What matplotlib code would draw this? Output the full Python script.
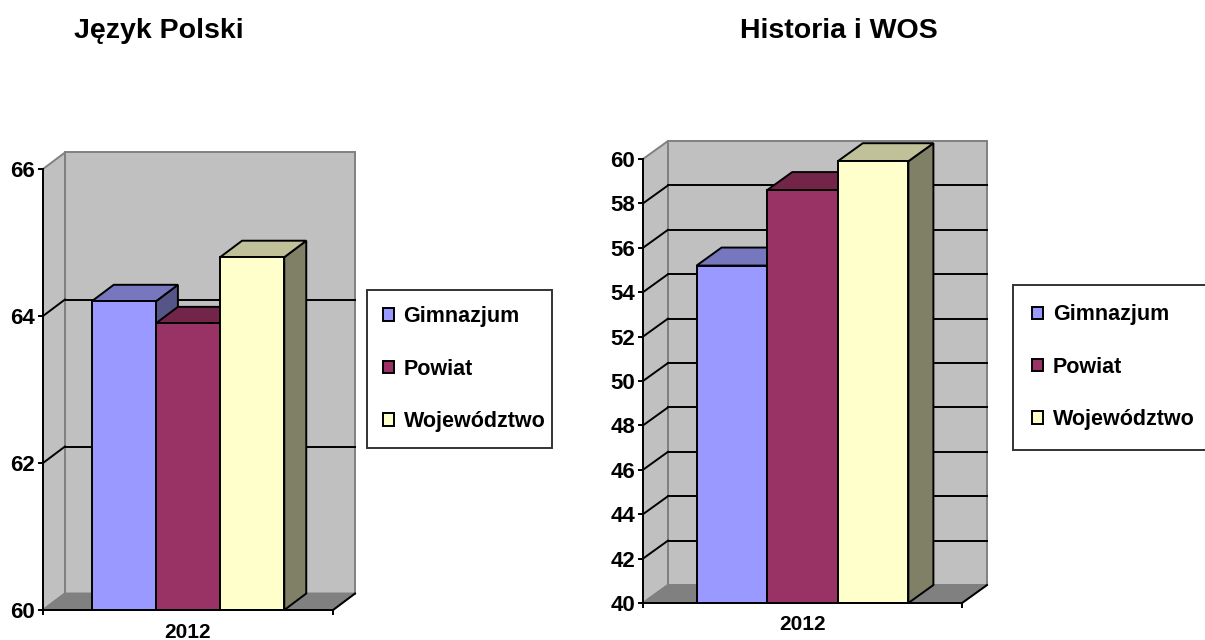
import matplotlib
matplotlib.use("Agg")
import matplotlib.pyplot as plt
from matplotlib.patches import Polygon, Rectangle

plt.rcParams['font.family'] = ['Liberation Sans', 'DejaVu Sans']
plt.rcParams['font.weight'] = 'bold'

# data
year = '2012'
series = ['Gimnazjum', 'Powiat', 'Województwo']
polski = [64.2, 63.9, 64.8]
historia = [55.2, 58.6, 59.9]
polski_ticks = [60, 62, 64, 66]
historia_ticks = list(range(40, 61, 2))

front_col = ['#9999FF', '#993366', '#FFFFCC']
top_col = ['#7777C0', '#732549', '#C0C099']
side_col = ['#555588', '#5C1F3D', '#808066']
WALL = '#C0C0C0'
FLOOR = '#808080'
EDGE = '#808080'
LW = 1.4

W, H = 1205, 640
fig = plt.figure(figsize=(W / 100, H / 100), dpi=100)


def panel(ax, values, ticks, dx_px, dy_px):
    ymin, ymax = ticks[0], ticks[-1]
    ax.set_xlim(-0.5, 0.5)
    ax.set_ylim(ymin, ymax)
    ax.patch.set_visible(False)
    bb = ax.bbox
    ddx = dx_px / bb.width
    ddy = dy_px / bb.height * (ymax - ymin)

    # back wall, side wall, floor
    ax.add_patch(Rectangle((-0.5 + ddx, ymin + ddy), 1, ymax - ymin,
                           facecolor=WALL, edgecolor=EDGE, lw=LW, clip_on=False, zorder=0.1))
    ax.add_patch(Polygon([(-0.5, ymin), (-0.5 + ddx, ymin + ddy), (-0.5 + ddx, ymax + ddy), (-0.5, ymax)],
                         facecolor=WALL, edgecolor=EDGE, lw=LW, clip_on=False, zorder=0.2))
    ax.add_patch(Polygon([(-0.5, ymin), (0.5, ymin), (0.5 + ddx, ymin + ddy), (-0.5 + ddx, ymin + ddy)],
                         facecolor=FLOOR, edgecolor=EDGE, lw=LW, clip_on=False, zorder=0.3))
    ax.plot([0.5, 0.5 + ddx], [ymin, ymin + ddy], color='black', lw=LW, clip_on=False, zorder=0.4)

    # gridlines on the back wall + diagonals on the side wall
    for t in ticks[1:-1]:
        ax.plot([-0.5 + ddx, 0.5 + ddx], [t + ddy, t + ddy], color='black', lw=LW, clip_on=False, zorder=0.4)
        ax.plot([-0.5, -0.5 + ddx], [t, t + ddy], color='black', lw=LW, clip_on=False, zorder=0.4)

    # bars, left to right so each front covers the previous side
    w = 0.2213
    handles = []
    for i, v in enumerate(values):
        x = (i - 1) * w
        z = 1 + i
        r = x + w / 2
        l = x - w / 2
        ax.add_patch(Polygon([(r, ymin), (r + ddx, ymin + ddy), (r + ddx, v + ddy), (r, v)],
                             facecolor=side_col[i], edgecolor='black', lw=LW, clip_on=False, zorder=z))
        ax.add_patch(Polygon([(l, v), (l + ddx, v + ddy), (r + ddx, v + ddy), (r, v)],
                             facecolor=top_col[i], edgecolor='black', lw=LW, clip_on=False, zorder=z + 0.1))
        b = ax.bar(x, v - ymin, w, bottom=ymin, color=front_col[i], edgecolor='black',
                   lw=LW, zorder=z + 0.2, label=series[i])
        handles.append(b)

    for s in ['top', 'right']:
        ax.spines[s].set_visible(False)
    for s in ['left', 'bottom']:
        ax.spines[s].set_color('black')
        ax.spines[s].set_linewidth(LW)
        ax.spines[s].set_zorder(10)

    ax.set_yticks(ticks)
    ax.tick_params(axis='y', direction='out', length=3.6, width=LW, pad=2, labelsize=16)
    ax.set_xticks([0], [year])
    ax.set_xticks([-0.5, 0.5], minor=True)
    ax.tick_params(axis='x', which='major', length=0, pad=9, labelsize=15)
    ax.tick_params(axis='x', which='minor', direction='out', length=3.6, width=LW)
    return handles


ax1 = fig.add_axes([43 / W, (H - 610) / H, 290 / W, 441 / H])
h1 = panel(ax1, polski, polski_ticks, 22, 16.5)
ax2 = fig.add_axes([643 / W, (H - 603) / H, 319 / W, 444 / H])
h2 = panel(ax2, historia, historia_ticks, 25, 18)

fig.text(159 / W, 1 - 38 / H, 'Język Polski', ha='center', va='baseline', fontsize=20.5)
fig.text(839 / W, 1 - 38 / H, 'Historia i WOS', ha='center', va='baseline', fontsize=20.5)


def legend(ax, handles, x0, top, width, pad):
    leg = ax.legend(handles, series, loc='upper left',
                    bbox_to_anchor=(x0 / W, 1 - top / H, width / W, 0), bbox_transform=fig.transFigure,
                    mode='expand', fontsize=15.5, frameon=True, fancybox=False, edgecolor='black',
                    borderpad=pad, labelspacing=1.46, handlelength=0.5, handleheight=0.5,
                    handletextpad=0.45, borderaxespad=0)
    leg.get_frame().set_linewidth(LW)
    leg.set_zorder(20)


legend(ax1, h1, 367, 290, 185, 0.75)
legend(ax2, h2, 1013, 285, 230, 0.9)

fig.savefig('out.png', dpi=100)
